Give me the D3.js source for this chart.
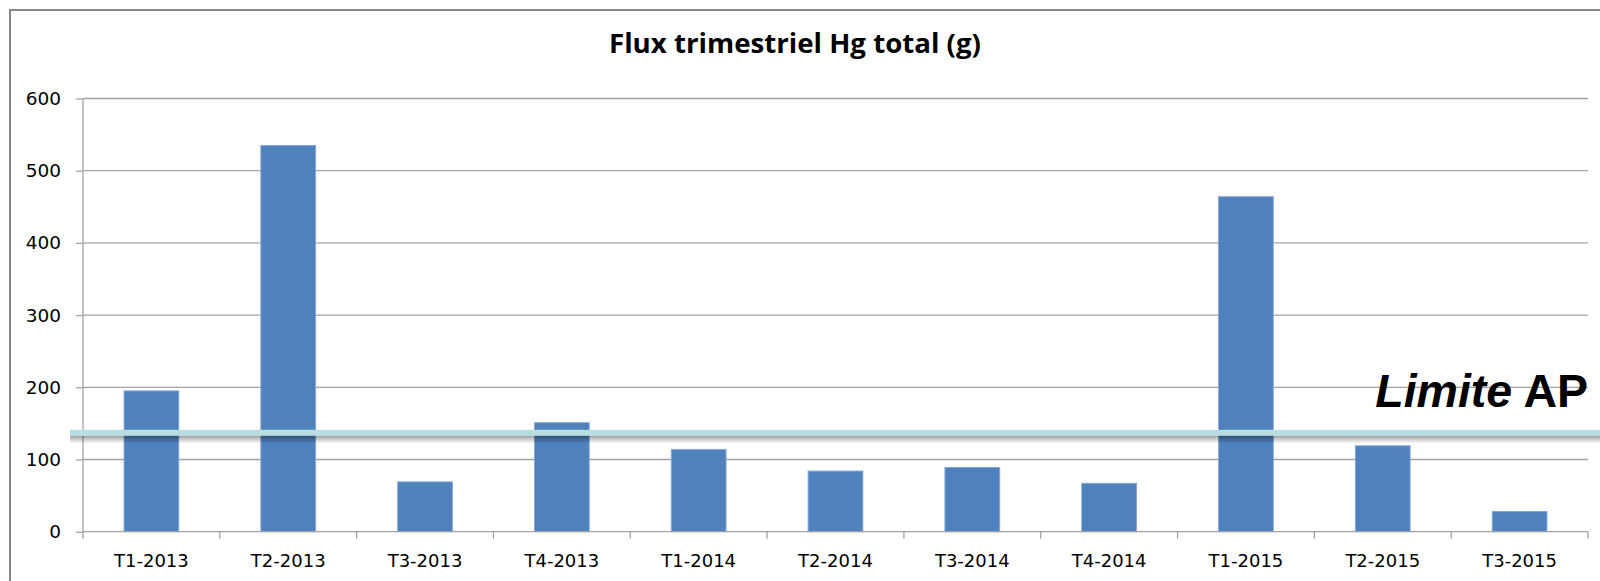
<!DOCTYPE html>
<html>
<head>
<meta charset="utf-8">
<script src="https://cdn.jsdelivr.net/npm/d3@7"></script>
<style>
  html, body { margin: 0; padding: 0; background: #ffffff; }
  svg { display: block; }
</style>
</head>
<body>
<svg id="chart" width="1600" height="581"></svg>
<script>
// ---- Data ----
const title = "Flux trimestriel Hg total (g)";
const categories = ["T1-2013", "T2-2013", "T3-2013", "T4-2013", "T1-2014", "T2-2014", "T3-2014", "T4-2014", "T1-2015", "T2-2015", "T3-2015"];
const values = [195, 535, 69, 151, 114, 84, 89, 67, 464, 119, 28];
const yTicks = [0, 100, 200, 300, 400, 500, 600];
const limitValue = 137;
const limitLabelItalic = "Limite";
const limitLabelBold = " AP";

// ---- Layout ----
const svg = d3.select("#chart");
const plot = { left: 83, right: 1588, top: 98.5, bottom: 531.7 };

const x = d3.scaleBand()
  .domain(categories)
  .range([plot.left, plot.right])
  .paddingInner(0.6)
  .paddingOuter(0.3);

const y = d3.scaleLinear()
  .domain([0, 600])
  .range([plot.bottom, plot.top]);

const defs = svg.append("defs");
const grad = defs.append("linearGradient")
  .attr("id", "shadowGrad").attr("x1", 0).attr("y1", 0).attr("x2", 0).attr("y2", 1);
grad.append("stop").attr("offset", "0%").attr("stop-color", "#000").attr("stop-opacity", 0.38);
grad.append("stop").attr("offset", "100%").attr("stop-color", "#000").attr("stop-opacity", 0);

// Outer frame (only top and left edges visible)
svg.append("rect")
  .attr("x", 10).attr("y", 10)
  .attr("width", 1620).attr("height", 620)
  .attr("fill", "none")
  .attr("stroke", "#878787")
  .attr("stroke-width", 2);

// Title
svg.append("text")
  .attr("x", 795).attr("y", 52.5)
  .attr("text-anchor", "middle")
  .attr("font-family", "'Open Sans', Lato, sans-serif")
  .attr("font-weight", "bold")
  .attr("font-size", 26.5)
  .attr("textLength", 372)
  .attr("lengthAdjust", "spacingAndGlyphs")
  .attr("fill", "#000")
  .text(title);

// Gridlines
svg.append("g")
  .selectAll("line")
  .data(yTicks.filter(d => d !== 0))
  .join("line")
  .attr("x1", plot.left).attr("x2", plot.right)
  .attr("y1", d => y(d)).attr("y2", d => y(d))
  .attr("stroke", "#a3a3a3")
  .attr("stroke-width", 1.3);

// Y axis
const yAxis = d3.axisLeft(y)
  .tickValues(yTicks)
  .tickSize(7)
  .tickPadding(15)
  .tickFormat(d3.format("d"));
const gy = svg.append("g")
  .attr("transform", `translate(${plot.left},0)`)
  .call(yAxis);
gy.select(".domain").attr("stroke", "#a3a3a3").attr("stroke-width", 1.3)
  .attr("d", `M0,${plot.top}V${plot.bottom}`);
gy.selectAll(".tick line").attr("stroke", "#a3a3a3").attr("stroke-width", 1.3);
gy.selectAll(".tick text")
  .attr("font-family", "'DejaVu Sans', sans-serif")
  .attr("font-size", 18.5)
  .attr("fill", "#000");

// Bars
svg.append("g")
  .selectAll("rect")
  .data(categories.map((c, i) => ({ c, v: values[i] })))
  .join("rect")
  .attr("x", d => x(d.c))
  .attr("y", d => y(d.v))
  .attr("width", x.bandwidth())
  .attr("height", d => y(0) - y(d.v))
  .attr("fill", "#4f81bd")
  .attr("stroke", "#87a8d4")
  .attr("stroke-width", 1);

// X axis line and category boundary ticks
const step = x.step();
const boundaries = categories.map(c => x(c) - step * x.paddingOuter()).concat([plot.right]);
const gx = svg.append("g");
gx.append("line")
  .attr("x1", plot.left).attr("x2", plot.right)
  .attr("y1", y(0)).attr("y2", y(0))
  .attr("stroke", "#a3a3a3").attr("stroke-width", 1.3);
gx.selectAll("line.tk")
  .data(boundaries)
  .join("line")
  .attr("class", "tk")
  .attr("x1", d => d).attr("x2", d => d)
  .attr("y1", y(0)).attr("y2", y(0) + 7)
  .attr("stroke", "#a3a3a3").attr("stroke-width", 1.3);
gx.selectAll("text")
  .data(categories)
  .join("text")
  .attr("x", d => x(d) + x.bandwidth() / 2)
  .attr("y", 566.5)
  .attr("text-anchor", "middle")
  .attr("font-family", "'DejaVu Sans', sans-serif")
  .attr("font-size", 18)
  .attr("fill", "#000")
  .text(d => d);

// Limit line with shadow
const ly = y(limitValue);
svg.append("rect")
  .attr("x", 70).attr("y", ly + 2.8)
  .attr("width", 1540).attr("height", 8)
  .attr("fill", "url(#shadowGrad)");
svg.append("rect")
  .attr("x", 70).attr("y", ly - 3)
  .attr("width", 1540).attr("height", 6)
  .attr("fill", "#b8dee1");

// Limit label
const lbl = svg.append("text")
  .attr("x", 1588).attr("y", 407)
  .attr("text-anchor", "end")
  .attr("font-family", "'Liberation Sans', Arial, sans-serif")
  .attr("font-weight", "bold")
  .attr("font-size", 46.5)
  .attr("fill", "#000");
lbl.append("tspan").attr("font-style", "italic").text(limitLabelItalic);
lbl.append("tspan").attr("xml:space", "preserve").text(limitLabelBold);
</script>
</body>
</html>
